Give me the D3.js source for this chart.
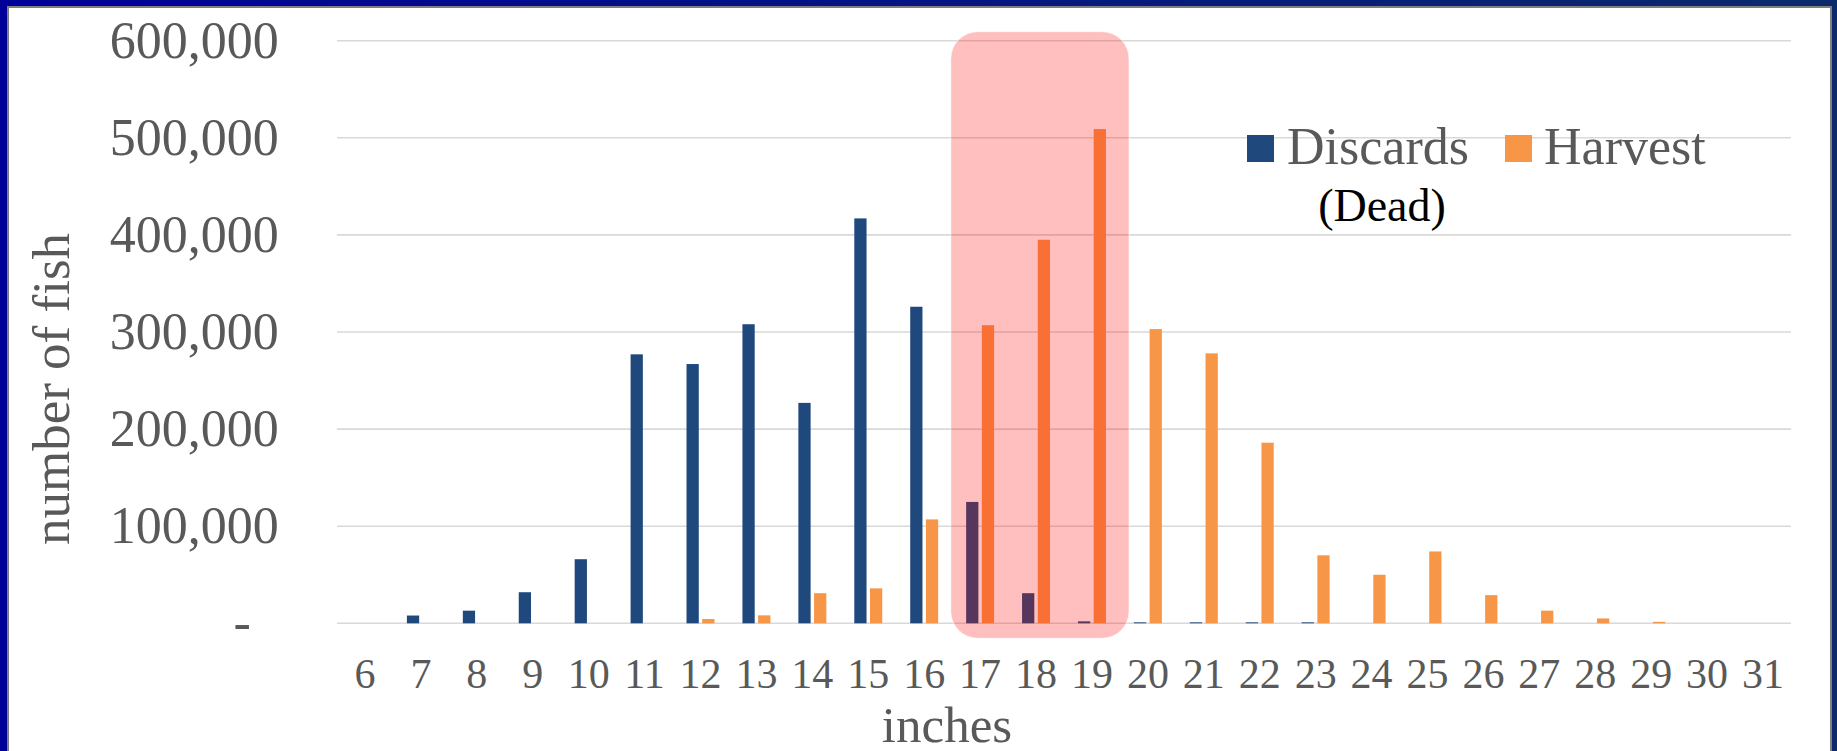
<!DOCTYPE html>
<html>
<head>
<meta charset="utf-8">
<script src="https://cdn.jsdelivr.net/npm/d3@7/dist/d3.min.js"></script>
<style>
  html, body { margin: 0; padding: 0; background: #ffffff; }
  svg { display: block; }
  text { font-family: "Liberation Serif", "Times New Roman", serif; }
</style>
</head>
<body>
<svg id="chart" width="1837" height="751"></svg>
<script>
// Fish length classes (inches)
const categories = ["6","7","8","9","10","11","12","13","14","15","16","17","18","19","20","21","22","23","24","25","26","27","28","29","30","31"];

// Dead discards by length
const discards = [0, 8000, 13000, 32000, 66000, 277000, 267000, 308000, 227000, 417000, 326000, 125000, 31000, 2000, 1000, 1000, 1000, 1000, 0, 0, 0, 0, 0, 0, 0, 0];

// Harvest by length
const harvest = [0, 0, 0, 0, 0, 0, 4400, 8200, 31000, 36000, 107000, 307000, 395000, 509000, 303000, 278000, 186000, 70000, 50000, 74000, 29000, 13000, 5000, 1500, 0, 0];

const seriesNames = ["Discards", "Harvest"];
const seriesColors = ["#1F497D", "#F79646"];
const yTicks = [0, 100000, 200000, 300000, 400000, 500000, 600000];
const highlighted = ["17", "18", "19"];

const W = 1837, H = 751;
const svg = d3.select("#chart");
const defs = svg.append("defs");

// Frame: blue slide border with a white panel
const grad = defs.append("linearGradient").attr("id", "frameGrad")
  .attr("x1", "0%").attr("x2", "100%").attr("y1", "0%").attr("y2", "0%");
grad.append("stop").attr("offset", "0%").attr("stop-color", "#000099");
grad.append("stop").attr("offset", "100%").attr("stop-color", "#0B2A6B");
svg.append("rect").attr("x", 0).attr("y", 0).attr("width", W).attr("height", H)
  .attr("fill", "url(#frameGrad)");
svg.append("rect").attr("x", 8).attr("y", 7).attr("width", 1823).attr("height", H + 20)
  .attr("fill", "#ffffff").attr("stroke", "#7F7F7F").attr("stroke-width", 2);

// Scales
const x0 = d3.scaleBand().domain(categories).range([337, 1791])
  .paddingInner(0.5).paddingOuter(0.25);
const x1 = d3.scaleBand().domain(seriesNames).range([0, x0.bandwidth()]).paddingInner(0.22);
const y = d3.scaleLinear().domain([0, 600000]).range([623.3, 40.7]);
const color = d3.scaleOrdinal().domain(seriesNames).range(seriesColors);

// Horizontal gridlines
svg.append("g").selectAll("line").data(yTicks).join("line")
  .attr("x1", 337).attr("x2", 1791)
  .attr("y1", d => y(d)).attr("y2", d => y(d))
  .attr("stroke", "#D9D9D9").attr("stroke-width", 1.6);

// Y axis
const yAxis = svg.append("g").attr("transform", "translate(337,0)")
  .call(d3.axisLeft(y).tickValues(yTicks).tickSize(0).tickPadding(58.3)
    .tickFormat(d => d === 0 ? "-" : d3.format(",")(d)));
yAxis.select(".domain").remove();
yAxis.selectAll("text")
  .attr("font-size", 52).attr("fill", "#595959")
  .style("font-family", "'Liberation Serif', 'Times New Roman', serif")
  .attr("dx", d => d === 0 ? -28 : 0);

// X axis
const xAxis = svg.append("g").attr("transform", "translate(0,623.3)")
  .call(d3.axisBottom(x0).tickSize(0).tickPadding(35));
xAxis.select(".domain").remove();
xAxis.selectAll("text")
  .attr("font-size", 42).attr("fill", "#595959")
  .style("font-family", "'Liberation Serif', 'Times New Roman', serif");

// Bars
const rows = categories.map((c, i) => ({ cat: c, values: [
  { key: "Discards", value: discards[i] },
  { key: "Harvest", value: harvest[i] }
]}));

svg.append("g").selectAll("g").data(rows).join("g")
  .attr("transform", d => `translate(${x0(d.cat)},0)`)
  .selectAll("rect").data(d => d.values).join("rect")
  .attr("x", d => x1(d.key))
  .attr("width", x1.bandwidth())
  .attr("y", d => y(d.value))
  .attr("height", d => y(0) - y(d.value))
  .attr("fill", d => color(d.key));

// Highlight over the 17–19 inch classes
const hStart = x0(highlighted[0]) + x0.bandwidth() / 2 - 0.524 * x0.step();
const hEnd = x0(highlighted[highlighted.length - 1]) + x0.bandwidth() / 2 + 0.663 * x0.step();
svg.append("rect")
  .attr("x", hStart).attr("y", 31.7)
  .attr("width", hEnd - hStart).attr("height", 606.6)
  .attr("rx", 27).attr("ry", 27)
  .attr("fill", "rgba(255,0,0,0.25)")
  .attr("stroke", "rgba(255,255,255,0.6)").attr("stroke-width", 1);

// Axis titles
svg.append("text")
  .attr("x", 947).attr("y", 741.7)
  .attr("text-anchor", "middle")
  .attr("font-size", 51).attr("fill", "#595959")
  .text("inches");

svg.append("text")
  .attr("transform", "translate(69,389) rotate(-90)")
  .attr("text-anchor", "middle")
  .attr("font-size", 53).attr("fill", "#595959")
  .text("number of fish");

// Legend
const legend = svg.append("g");
const legendItems = [
  { name: "Discards", sx: 1247, tx: 1287 },
  { name: "Harvest", sx: 1505, tx: 1544 }
];
legend.selectAll("rect").data(legendItems).join("rect")
  .attr("x", d => d.sx).attr("y", 135).attr("width", 27).attr("height", 27)
  .attr("fill", d => color(d.name));
legend.selectAll("text.item").data(legendItems).join("text")
  .attr("class", "item")
  .attr("x", d => d.tx).attr("y", 164)
  .attr("font-size", 52).attr("fill", "#595959")
  .text(d => d.name);
legend.append("text")
  .attr("x", 1382).attr("y", 220.7)
  .attr("text-anchor", "middle")
  .attr("font-size", 46).attr("fill", "#000000")
  .text("(Dead)");
</script>
</body>
</html>
